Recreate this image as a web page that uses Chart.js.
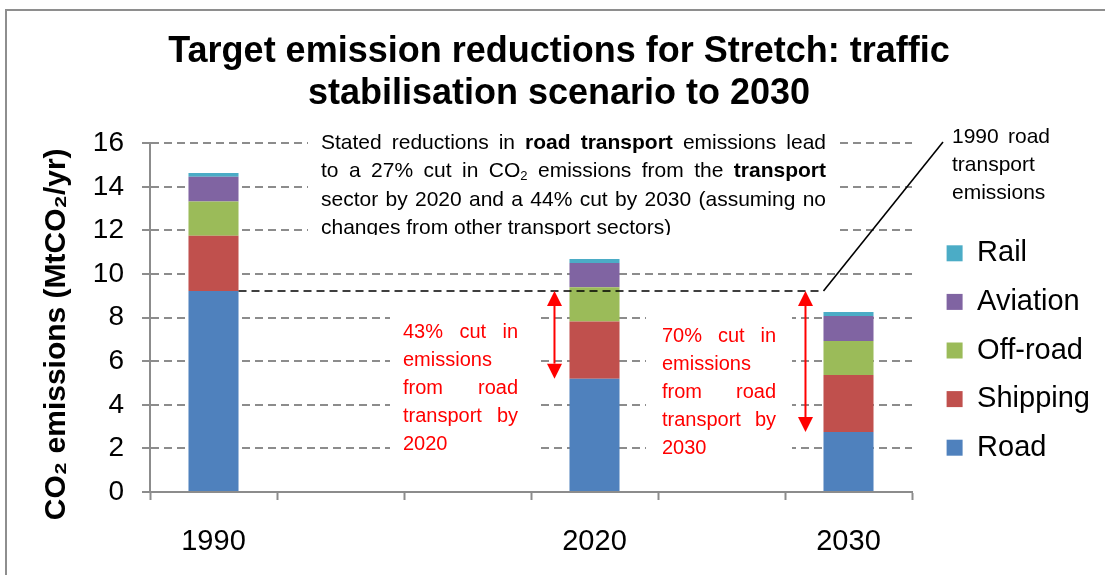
<!DOCTYPE html>
<html>
<head>
<meta charset="utf-8">
<title>Target emission reductions for Stretch</title>
<script src="https://cdn.jsdelivr.net/npm/chart.js@4.4.1/dist/chart.umd.min.js"></script>
<style>
  html, body { margin: 0; padding: 0; background: #fff; }
  body { width: 1105px; height: 575px; overflow: hidden; position: relative; }
  #frame { position: absolute; left: 5px; top: 9px; width: 1200px; height: 700px;
           border-left: 2px solid #8e8e8e; border-top: 2px solid #8e8e8e; }
  #wrap { position: absolute; left: 0; top: 0; width: 1105px; height: 575px; }
</style>
</head>
<body>
<div id="frame"></div>
<div id="wrap"><canvas id="emissionsChart"></canvas></div>
<script>
// categories (blank ones keep the time spacing of the original)
const categories = ['1990', '', '', '2020', '', '2030'];

// MtCO2/yr
const road     = [9.22, null, null, 5.20, null, 2.75];
const shipping = [2.54, null, null, 2.62, null, 2.62];
const offRoad  = [1.57, null, null, 1.57, null, 1.56];
const aviation = [1.13, null, null, 1.12, null, 1.14];
const rail     = [0.17, null, null, 0.18, null, 0.19];

const yMin = 0;
const yMax = 16;
const yStep = 2;

const gridGrey = '#8c8c8c';
const fontName = '"Liberation Sans", Arial, sans-serif';

Chart.defaults.font.family = fontName;
Chart.defaults.color = '#000';

// --- little helpers for the justified text boxes ---
function parseWord(w) {
    let bold = false;
    if (w.startsWith('*') && w.endsWith('*')) {
        bold = true;
        w = w.slice(1, -1);
    }
    const parts = w.split('_');
    return { bold: bold, base: parts[0], sub: parts[1] || '' };
}

function setFont(ctx, size, bold) {
    ctx.font = (bold ? 'bold ' : '') + size + 'px ' + fontName;
}

function measureWord(ctx, w, size) {
    setFont(ctx, size, w.bold);
    let width = ctx.measureText(w.base).width;
    if (w.sub) {
        setFont(ctx, size * 0.62, w.bold);
        width += ctx.measureText(w.sub).width;
    }
    return width;
}

function drawWord(ctx, w, x, y, size) {
    setFont(ctx, size, w.bold);
    ctx.fillText(w.base, x, y);
    if (w.sub) {
        const bw = ctx.measureText(w.base).width;
        setFont(ctx, size * 0.62, w.bold);
        ctx.fillText(w.sub, x + bw, y + size * 0.25);
    }
}

function drawParagraph(ctx, lines, x, y, width, lineHeight, size, color) {
    ctx.fillStyle = color;
    ctx.textBaseline = 'middle';
    ctx.textAlign = 'left';
    lines.forEach((line, i) => {
        const words = line.split(' ').map(parseWord);
        const widths = words.map(w => measureWord(ctx, w, size));
        const total = widths.reduce((a, b) => a + b, 0);
        setFont(ctx, size, false);
        let gap = ctx.measureText(' ').width;
        if (i < lines.length - 1 && words.length > 1) {
            gap = (width - total) / (words.length - 1);
        }
        let cx = x;
        words.forEach((w, j) => {
            drawWord(ctx, w, cx, y + i * lineHeight, size);
            cx += widths[j] + gap;
        });
    });
}

function drawArrow(ctx, x, y1, y2) {
    const h = 15, w = 7.5;
    ctx.strokeStyle = '#ff0000';
    ctx.fillStyle = '#ff0000';
    ctx.lineWidth = 2;
    ctx.setLineDash([]);
    ctx.beginPath();
    ctx.moveTo(x, y1 + h);
    ctx.lineTo(x, y2 - h);
    ctx.stroke();
    ctx.beginPath();
    ctx.moveTo(x, y1);
    ctx.lineTo(x - w, y1 + h);
    ctx.lineTo(x + w, y1 + h);
    ctx.closePath();
    ctx.fill();
    ctx.beginPath();
    ctx.moveTo(x, y2);
    ctx.lineTo(x - w, y2 - h);
    ctx.lineTo(x + w, y2 - h);
    ctx.closePath();
    ctx.fill();
}

const topNote = [
    'Stated reductions in *road* *transport* emissions lead',
    'to a 27% cut in CO_2 emissions from the *transport*',
    'sector by 2020 and a 44% cut by 2030 (assuming no',
    'changes from other transport sectors)'
];
const note2020 = ['43% cut in', 'emissions', 'from road', 'transport by', '2020'];
const note2030 = ['70% cut in', 'emissions', 'from road', 'transport by', '2030'];
const note1990 = ['1990 road', 'transport', 'emissions'];

const annotations = {
    id: 'annotations',
    afterDatasetsDraw(chart) {
        const ctx = chart.ctx;
        const y = chart.scales.y;
        const bars = chart.getDatasetMeta(0).data;
        const b1990 = bars[0], b2020 = bars[3], b2030 = bars[5];
        const yRef = y.getPixelForValue(road[0]);

        ctx.save();

        // white text boxes over the grid
        ctx.fillStyle = '#fff';
        ctx.fillRect(308, 128, 532, 108);
        ctx.fillRect(390, 305, 147, 158);
        ctx.fillRect(646, 305, 146, 160);

        ctx.save();
        ctx.beginPath();
        ctx.rect(308, 120, 532, 115);
        ctx.clip();
        drawParagraph(ctx, topNote, 321, 143, 505, 28.4, 21, '#000');
        ctx.restore();

        drawParagraph(ctx, note2020, 403, 332, 115, 28, 20, '#ff0000');
        drawParagraph(ctx, note2030, 662, 336, 114, 28, 20, '#ff0000');
        drawParagraph(ctx, note1990, 952, 137, 98, 28, 21, '#000');

        // 1990 road level, dashed across to the 2030 bar
        const xStart = b1990.x + b1990.width / 2;
        const xEnd = b2030.x - b2030.width / 2;
        ctx.strokeStyle = '#000';
        ctx.lineWidth = 1.6;
        ctx.setLineDash([8, 5]);
        ctx.beginPath();
        ctx.moveTo(xStart, yRef);
        ctx.lineTo(xEnd, yRef);
        ctx.stroke();
        ctx.setLineDash([]);
        ctx.beginPath();
        ctx.moveTo(xEnd, yRef);
        ctx.lineTo(943, 142);
        ctx.stroke();

        drawArrow(ctx, b2020.x - b2020.width / 2 - 15, yRef, y.getPixelForValue(road[3]));
        drawArrow(ctx, b2030.x - b2030.width / 2 - 18, yRef, y.getPixelForValue(road[5]));

        ctx.restore();
    }
};

function makeSet(label, data, color) {
    return {
        label: label,
        data: data,
        backgroundColor: color,
        borderWidth: 0,
        barPercentage: 0.394,
        categoryPercentage: 1.0
    };
}

const ctx = document.getElementById('emissionsChart').getContext('2d');

new Chart(ctx, {
    type: 'bar',
    data: {
        labels: categories,
        datasets: [
            makeSet('Road', road, '#4f81bd'),
            makeSet('Shipping', shipping, '#c0504d'),
            makeSet('Off-road', offRoad, '#9bbb59'),
            makeSet('Aviation', aviation, '#8064a2'),
            makeSet('Rail', rail, '#4bacc6')
        ]
    },
    options: {
        responsive: true,
        maintainAspectRatio: false,
        animation: false,
        layout: {
            padding: { left: 26, right: 13, top: 0, bottom: 20 }
        },
        scales: {
            x: {
                stacked: true,
                offset: true,
                grid: {
                    offset: true,
                    drawOnChartArea: false,
                    drawTicks: true,
                    tickLength: 8,
                    tickColor: gridGrey,
                    tickWidth: 2
                },
                border: { color: gridGrey, width: 2 },
                ticks: {
                    font: { size: 29 },
                    color: '#000',
                    padding: 25,
                    maxRotation: 0,
                    autoSkip: false
                },
                afterFit: s => { s.height = 63; }
            },
            y: {
                stacked: true,
                min: yMin,
                max: yMax,
                ticks: {
                    stepSize: yStep,
                    font: { size: 28 },
                    color: '#000',
                    padding: 18
                },
                grid: {
                    color: gridGrey,
                    lineWidth: 2,
                    tickLength: 8,
                    tickColor: gridGrey,
                    tickWidth: 2,
                    tickBorderDash: [8, 5]
                },
                border: { color: gridGrey, width: 2, dash: [8, 5] },
                title: {
                    display: true,
                    // trailing spaces nudge the rotated title down like the original
                    text: 'CO₂ emissions (MtCO₂/yr)    ',
                    font: { size: 30, weight: 'bold' },
                    color: '#000',
                    padding: { top: 13, bottom: 0 }
                },
                afterFit: s => { s.width = 124; }
            },
            spacer: {
                type: 'linear',
                position: 'right',
                min: 0,
                max: 1,
                grid: { display: false },
                border: { display: false },
                ticks: { display: false },
                afterFit: s => { s.width = 15; }
            }
        },
        plugins: {
            title: {
                display: true,
                text: ['Target emission reductions for Stretch: traffic', 'stabilisation scenario to 2030'],
                font: { size: 36, weight: 'bold', lineHeight: 1.17 },
                color: '#000',
                padding: { top: 31, bottom: 28 }
            },
            legend: {
                position: 'right',
                align: 'center',
                reverse: true,
                maxWidth: 165,
                title: {
                    display: true,
                    text: '',
                    font: { size: 10, lineHeight: 1 },
                    padding: { top: 0, bottom: 136 }
                },
                labels: {
                    boxWidth: 16,
                    boxHeight: 16,
                    padding: 19.6,
                    font: { size: 29 },
                    color: '#000'
                }
            },
            tooltip: { enabled: false }
        }
    },
    plugins: [annotations]
});
</script>
</body>
</html>
